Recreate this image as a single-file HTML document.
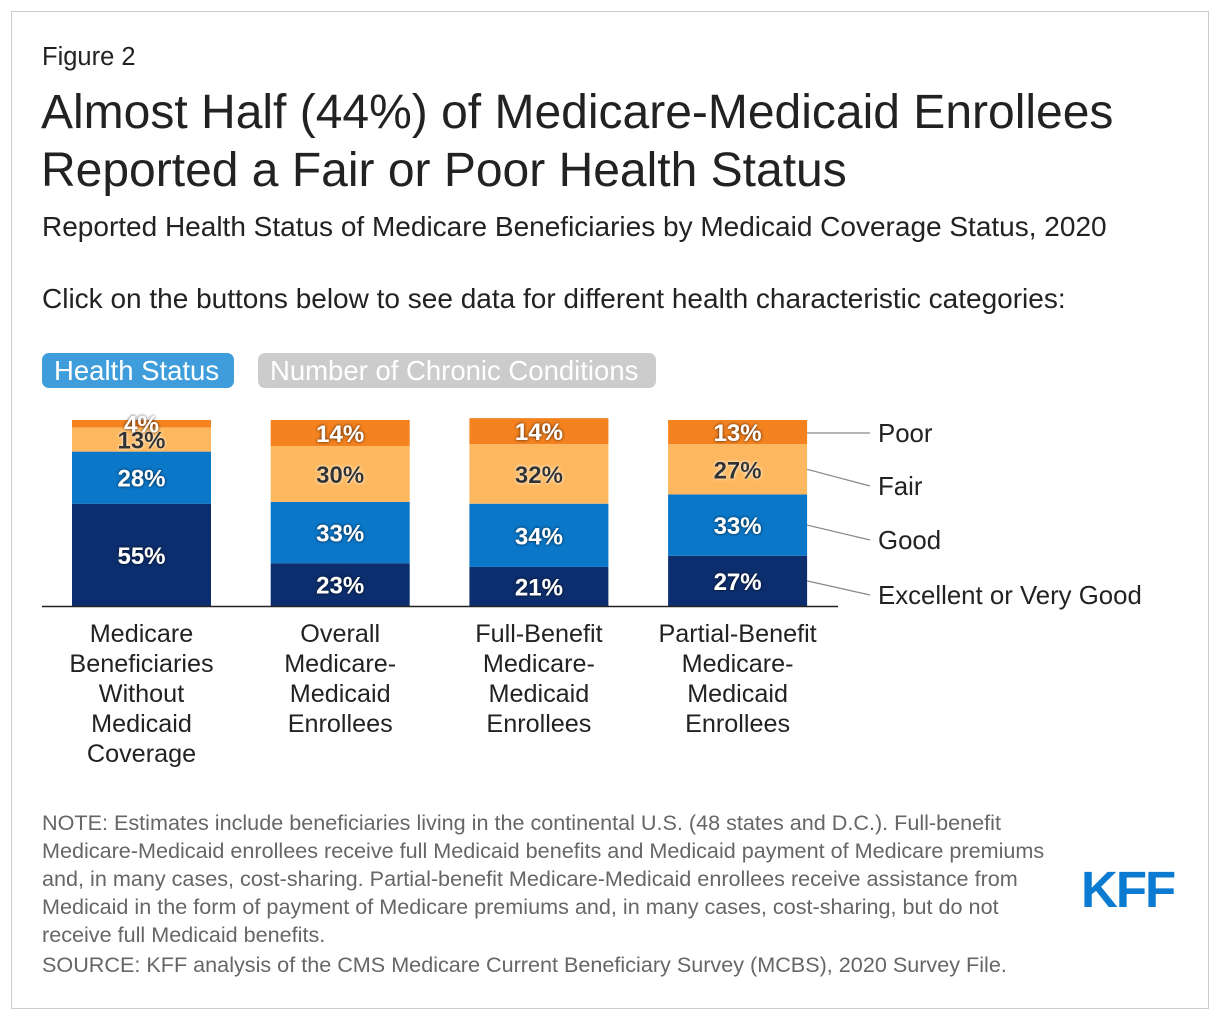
<!DOCTYPE html>
<html><head><meta charset="utf-8"><style>
body{margin:0;width:1220px;height:1020px;background:#fff;font-family:"Liberation Sans",Arial,sans-serif;position:relative;overflow:hidden}
.frame{position:absolute;left:11px;top:11px;width:1196px;height:996px;border:1px solid #ccc}
.abs{position:absolute;white-space:nowrap}
.btn{position:absolute;top:353px;height:35px;border-radius:7px;color:#fff;font-size:27.5px;line-height:35px;padding:0 12px;box-sizing:border-box;white-space:nowrap}
.note{position:absolute;left:42px;font-size:21.6px;color:#666;line-height:28px;white-space:nowrap}
</style></head><body>
<div class="frame"></div>
<div class="abs" style="left:42px;top:43px;font-size:25.5px;color:#222">Figure 2</div>
<div class="abs" style="left:41px;top:84px;font-size:48px;line-height:58px;color:#222">Almost Half (44%) of Medicare-Medicaid Enrollees<br>Reported a Fair or Poor Health Status</div>
<div class="abs" style="left:42px;top:211px;font-size:28px;color:#222">Reported Health Status of Medicare Beneficiaries by Medicaid Coverage Status, 2020</div>
<div class="abs" style="left:42px;top:283px;font-size:28px;color:#222">Click on the buttons below to see data for different health characteristic categories:</div>
<div class="btn" style="left:42px;width:192px;background:#3f9ddb">Health Status</div>
<div class="btn" style="left:258px;width:398px;background:#ccc">Number of Chronic Conditions</div>
<svg id="chart" width="1220" height="800" style="position:absolute;left:0;top:0"></svg>
<div class="note" style="top:809px">NOTE: Estimates include beneficiaries living in the continental U.S. (48 states and D.C.). Full-benefit<br>Medicare-Medicaid enrollees receive full Medicaid benefits and Medicaid payment of Medicare premiums<br>and, in many cases, cost-sharing. Partial-benefit Medicare-Medicaid enrollees receive assistance from<br>Medicaid in the form of payment of Medicare premiums and, in many cases, cost-sharing, but do not<br>receive full Medicaid benefits.</div>
<div class="note" style="top:951px">SOURCE: KFF analysis of the CMS Medicare Current Beneficiary Survey (MCBS), 2020 Survey File.</div>
<div class="abs" style="left:1081px;top:860px;font-size:51px;font-weight:bold;color:#0a7bd1;letter-spacing:-2px">KFF</div>
<script>
const categories=[["Medicare","Beneficiaries","Without","Medicaid","Coverage"],["Overall","Medicare-","Medicaid","Enrollees"],["Full-Benefit","Medicare-","Medicaid","Enrollees"],["Partial-Benefit","Medicare-","Medicaid","Enrollees"]];
const seriesNames=["Excellent or Very Good","Good","Fair","Poor"];
const excellent=[55,23,21,27];
const good=[28,33,34,33];
const fair=[13,30,32,27];
const poor=[4,14,14,13];
const colors=["#0c2e6e","#0a77c9","#fdb85f","#f4821f"];
const textColors=["#fff","#fff","#333","#fff"];
const series=[excellent,good,fair,poor];
const svg=document.getElementById('chart');
const NS="http://www.w3.org/2000/svg";
const baseY=606,scale=1.86,barW=139,x0=72,step=198.7;
const xPos=i=>x0+i*step;
const yPos=v=>baseY-v*scale;
function mk(t,a){const e=document.createElementNS(NS,t);for(const k in a)e.setAttribute(k,a[k]);svg.appendChild(e);return e;}
const defs=mk('defs',{});
defs.innerHTML='<filter id="sd" x="-20%" y="-20%" width="140%" height="140%"><feDropShadow dx="0" dy="0" stdDeviation="1.5" flood-color="#000" flood-opacity="0.8"/></filter><filter id="sl" x="-20%" y="-20%" width="140%" height="140%"><feDropShadow dx="0" dy="0" stdDeviation="1.5" flood-color="#fff" flood-opacity="1"/></filter>';
categories.forEach((c,i)=>{
  let cum=0;
  series.forEach((s,k)=>{
    const v=s[i];
    const r=mk('rect',{x:xPos(i),y:yPos(cum+v),width:barW,height:v*scale,fill:colors[k]});
    
    
    const t=mk('text',{x:xPos(i)+barW/2,y:yPos(cum+v/2)+9,'text-anchor':'middle','font-size':24,'font-weight':'bold',fill:textColors[k],filter:k===2?'url(#sl)':'url(#sd)'});
    t.textContent=v+'%';
    
    
    cum+=v;
  });
  c.forEach((line,j)=>{
    const t=mk('text',{x:xPos(i)+barW/2,y:642+j*30,'text-anchor':'middle','font-size':25.2,fill:'#222'});
    t.textContent=line;
    
    
  });
});
const ax=mk('line',{x1:42,x2:838,y1:baseY+0.5,y2:baseY+0.5,stroke:'#222','stroke-width':1.5});


const last=categories.length-1;let cum=0;
const labelY=[595,540,486,433];
series.forEach((s,k)=>{
  const v=s[last];const my=yPos(cum+v/2);cum+=v;
  const ly=labelY[k];
  const p=mk('line',{x1:xPos(last)+barW,y1:k===3?ly:my,x2:870,y2:ly,stroke:'#888','stroke-width':1.2});
  
  
  const t=mk('text',{x:878,y:ly+9,'font-size':25.8,fill:'#222'});
  t.textContent=seriesNames[k];
  
  
});
</script>
</body></html>
